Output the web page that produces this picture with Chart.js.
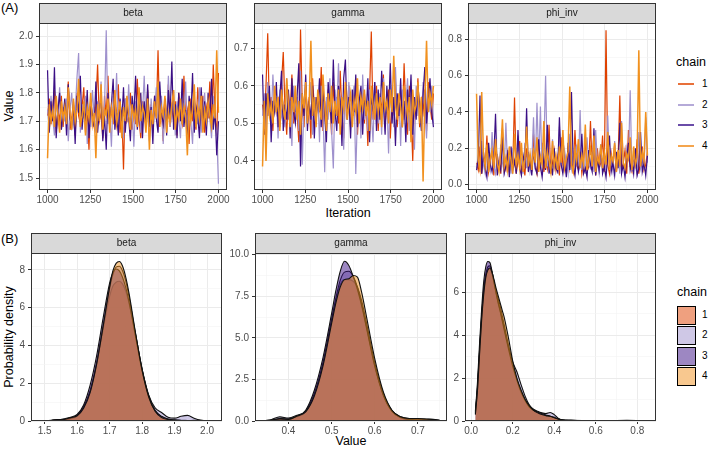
<!DOCTYPE html>
<html>
<head>
<meta charset="utf-8">
<script src="https://cdn.jsdelivr.net/npm/chart.js@4.4.1/dist/chart.umd.min.js"></script>
<style>
  body { margin: 0; background: #fff; width: 709px; height: 449px; position: relative; overflow: hidden;
         font-family: "Liberation Sans", Arial, sans-serif; }
  canvas { position: absolute; }
  .txt { position: absolute; white-space: nowrap; color: #000; }
  .rot { transform: translate(-50%, -50%) rotate(-90deg); }
  .ctr { transform: translate(-50%, -50%); }
</style>
</head>
<body>
<div class="txt" style="left:1px;top:0px;font-size:13px">(A)</div>
<div class="txt" style="left:1px;top:231px;font-size:13px">(B)</div>
<div class="txt rot" style="left:9px;top:106px;font-size:12.5px">Value</div>
<div class="txt ctr" style="left:348px;top:213px;font-size:12.5px">Iteration</div>
<div class="txt rot" style="left:9px;top:337px;font-size:12.5px">Probability density</div>
<div class="txt ctr" style="left:351px;top:441px;font-size:12.5px">Value</div>
<div id="legends"></div>
<script>
const chains = ["1", "2", "3", "4"];
const chainColors = ["#DF4100", "#9F91CD", "#3B0F85", "#F1911F"];
const legendLineColors = ["#E8703A", "#B5AAD8", "#6A4CA8", "#F4A54E"];
const fillColors = ["rgba(223,65,0,0.5)", "rgba(159,145,205,0.5)", "rgba(59,15,133,0.5)", "rgba(241,145,31,0.5)"];
const iterStart = 1000;
const iterEnd = 2000;

// trace values (every ~10th draw)
const betaTrace = [
  [1.72,1.78,1.69,1.75,1.81,1.66,1.74,1.70,1.79,1.68,1.76,1.73,1.84,1.67,1.71,1.77,1.65,1.80,1.72,1.69,
   1.75,1.82,1.66,1.74,1.60,1.78,1.71,1.68,1.76,1.90,1.70,1.73,1.64,1.79,1.72,1.86,1.67,1.75,1.69,1.77,
   1.71,1.83,1.66,1.74,1.53,1.78,1.70,1.72,1.80,1.67,1.75,1.69,1.85,1.71,1.64,1.77,1.73,1.68,1.81,1.70,
   1.76,1.66,1.79,1.72,1.95,1.69,1.74,1.63,1.78,1.71,1.83,1.68,1.75,1.70,1.77,1.65,1.80,1.72,1.69,1.86,
   1.71,1.74,1.62,1.78,1.70,1.76,1.67,1.82,1.73,1.69,1.79,1.66,1.75,1.71,1.84,1.68,1.90,1.72,1.65,1.87],
  [1.74,1.68,1.79,1.71,1.65,1.77,1.72,1.82,1.67,1.75,1.70,1.78,1.63,1.74,1.80,1.69,1.73,1.85,1.94,1.66,
   1.76,1.71,1.79,1.62,1.74,1.68,1.81,1.72,1.66,1.77,1.70,1.84,1.65,1.75,2.02,1.69,1.73,1.61,1.79,1.71,
   1.87,1.67,1.76,1.72,1.64,1.78,1.70,1.83,1.68,1.74,1.61,1.77,1.71,1.80,1.66,1.73,1.86,1.69,1.75,1.63,
   1.78,1.70,1.74,1.82,1.67,1.72,1.79,1.62,1.76,1.70,1.86,1.68,1.73,1.81,1.65,1.77,1.71,1.64,1.79,1.72,
   1.84,1.67,1.75,1.70,1.62,1.78,1.73,1.69,1.82,1.66,1.74,1.80,1.68,1.76,1.71,1.64,1.79,1.70,1.66,1.48],
  [1.88,1.66,1.77,1.70,1.89,1.64,1.74,1.80,1.67,1.72,1.78,1.65,1.83,1.71,1.68,1.76,1.62,1.79,1.73,1.86,
   1.67,1.75,1.70,1.81,1.64,1.77,1.72,1.68,1.84,1.66,1.74,1.79,1.63,1.72,1.60,1.80,1.69,1.76,1.85,1.67,
   1.73,1.65,1.78,1.70,1.82,1.66,1.75,1.71,1.63,1.79,1.72,1.86,1.67,1.74,1.80,1.64,1.77,1.70,1.83,1.68,
   1.75,1.62,1.79,1.71,1.66,1.84,1.73,1.69,1.78,1.65,1.81,1.72,1.91,1.67,1.76,1.64,1.80,1.70,1.85,1.68,
   1.74,1.63,1.79,1.71,1.87,1.66,1.75,1.72,1.64,1.82,1.69,1.77,1.65,1.80,1.71,1.85,1.67,1.74,1.58,1.70],
  [1.57,1.76,1.70,1.74,1.68,1.79,1.72,1.66,1.77,1.71,1.75,1.69,1.82,1.73,1.67,1.78,1.70,1.74,1.85,1.68,
   1.72,1.77,1.65,1.75,1.71,1.80,1.69,1.73,1.57,1.76,1.70,1.83,1.67,1.74,1.72,1.78,1.66,1.75,1.71,1.81,
   1.69,1.73,1.77,1.64,1.75,1.70,1.79,1.72,1.67,1.76,1.71,1.74,1.68,1.82,1.70,1.75,1.73,1.66,1.78,1.60,
   1.74,1.69,1.77,1.71,1.84,1.68,1.75,1.72,1.79,1.66,1.73,1.70,1.76,1.81,1.67,1.74,1.71,1.78,1.69,1.75,
   1.72,1.58,1.77,1.70,1.74,1.83,1.68,1.75,1.71,1.79,1.66,1.74,1.70,1.77,1.72,1.68,1.76,1.71,1.95,1.73]
];
const gammaTrace = [
  [0.55,0.50,0.60,0.74,0.52,0.57,0.48,0.59,0.53,0.56,0.49,0.61,0.69,0.54,0.47,0.58,0.52,0.63,0.50,0.56,
   0.53,0.45,0.75,0.55,0.49,0.60,0.52,0.57,0.46,0.62,0.54,0.50,0.58,0.53,0.65,0.48,0.56,0.51,0.59,0.55,
   0.47,0.61,0.53,0.57,0.50,0.64,0.52,0.46,0.58,0.54,0.60,0.49,0.55,0.52,0.62,0.47,0.57,0.53,0.59,0.50,
   0.56,0.44,0.58,0.745,0.51,0.55,0.60,0.48,0.57,0.53,0.63,0.50,0.54,0.59,0.46,0.56,0.52,0.61,0.49,0.55,
   0.58,0.51,0.66,0.53,0.47,0.60,0.54,0.40,0.57,0.52,0.62,0.49,0.56,0.53,0.59,0.48,0.61,0.55,0.51,0.58],
  [0.52,0.58,0.47,0.61,0.54,0.50,0.63,0.53,0.57,0.46,0.59,0.52,0.55,0.49,0.62,0.51,0.56,0.44,0.60,0.53,
   0.57,0.48,0.64,0.39,0.55,0.59,0.50,0.54,0.61,0.47,0.56,0.52,0.58,0.45,0.60,0.53,0.37,0.57,0.51,0.62,
   0.48,0.38,0.59,0.54,0.66,0.50,0.56,0.43,0.58,0.52,0.61,0.49,0.55,0.60,0.365,0.53,0.57,0.46,0.63,0.51,
   0.56,0.48,0.59,0.53,0.45,0.61,0.54,0.50,0.58,0.47,0.62,0.52,0.56,0.42,0.60,0.54,0.49,0.65,0.53,0.57,
   0.44,0.59,0.51,0.55,0.62,0.48,0.57,0.53,0.43,0.60,0.52,0.56,0.49,0.61,0.54,0.46,0.58,0.53,0.60,0.50],
  [0.63,0.47,0.58,0.52,0.60,0.45,0.56,0.53,0.61,0.49,0.57,0.64,0.48,0.55,0.51,0.59,0.46,0.62,0.53,0.50,
   0.57,0.66,0.385,0.58,0.52,0.63,0.48,0.56,0.51,0.60,0.46,0.57,0.54,0.62,0.49,0.59,0.52,0.45,0.61,0.55,
   0.50,0.67,0.53,0.48,0.60,0.56,0.44,0.62,0.67,0.51,0.57,0.46,0.59,0.53,0.63,0.49,0.56,0.60,0.47,0.58,
   0.52,0.62,0.45,0.57,0.54,0.61,0.48,0.59,0.51,0.64,0.55,0.47,0.60,0.53,0.66,0.50,0.57,0.44,0.58,0.52,
   0.62,0.49,0.56,0.45,0.59,0.53,0.63,0.47,0.57,0.51,0.60,0.55,0.48,0.58,0.65,0.50,0.56,0.62,0.53,0.49],
  [0.385,0.56,0.40,0.58,0.52,0.55,0.50,0.60,0.53,0.57,0.48,0.59,0.54,0.51,0.62,0.55,0.49,0.57,0.53,0.60,
   0.51,0.56,0.47,0.58,0.54,0.61,0.50,0.55,0.72,0.52,0.57,0.49,0.59,0.54,0.51,0.63,0.55,0.48,0.58,0.53,
   0.60,0.50,0.56,0.52,0.59,0.47,0.57,0.54,0.61,0.51,0.55,0.58,0.49,0.56,0.53,0.62,0.50,0.57,0.54,0.59,
   0.52,0.56,0.48,0.60,0.55,0.51,0.58,0.53,0.57,0.49,0.61,0.54,0.56,0.50,0.59,0.53,0.68,0.55,0.51,0.58,
   0.54,0.49,0.60,0.56,0.52,0.57,0.45,0.59,0.53,0.55,0.61,0.50,0.57,0.345,0.56,0.72,0.53,0.58,0.55,0.60]
];
const phiTrace = [
  [0.12,0.08,0.21,0.06,0.15,0.10,0.27,0.07,0.13,0.18,0.05,0.22,0.09,0.14,0.06,0.31,0.11,0.08,0.19,0.07,
   0.16,0.10,0.48,0.06,0.13,0.24,0.08,0.12,0.05,0.20,0.09,0.15,0.07,0.28,0.11,0.06,0.17,0.10,0.23,0.07,
   0.14,0.09,0.33,0.06,0.12,0.19,0.08,0.15,0.05,0.26,0.10,0.13,0.07,0.21,0.09,0.16,0.06,0.30,0.11,0.08,
   0.18,0.06,0.13,0.24,0.07,0.10,0.35,0.08,0.15,0.05,0.20,0.09,0.12,0.27,0.07,0.85,0.11,0.06,0.17,0.09,
   0.22,0.07,0.14,0.49,0.08,0.12,0.19,0.06,0.30,0.10,0.07,0.16,0.09,0.25,0.06,0.13,0.21,0.08,0.11,0.18],
  [0.09,0.16,0.07,0.24,0.11,0.06,0.19,0.13,0.08,0.29,0.10,0.06,0.17,0.08,0.22,0.12,0.07,0.34,0.09,0.15,
   0.06,0.20,0.11,0.08,0.27,0.10,0.14,0.06,0.23,0.09,0.18,0.07,0.12,0.37,0.08,0.45,0.13,0.43,0.06,0.21,
   0.60,0.10,0.16,0.07,0.25,0.09,0.13,0.06,0.32,0.11,0.08,0.19,0.12,0.06,0.28,0.09,0.15,0.07,0.22,0.10,
   0.41,0.08,0.14,0.06,0.26,0.11,0.09,0.18,0.07,0.30,0.12,0.06,0.21,0.09,0.16,0.08,0.38,0.10,0.13,0.07,
   0.24,0.09,0.15,0.06,0.35,0.11,0.08,0.20,0.13,0.52,0.07,0.17,0.10,0.06,0.29,0.09,0.14,0.08,0.37,0.12],
  [0.08,0.14,0.49,0.06,0.18,0.09,0.04,0.23,0.11,0.07,0.15,0.39,0.05,0.12,0.08,0.26,0.06,0.10,0.17,0.04,
   0.21,0.08,0.13,0.06,0.30,0.09,0.05,0.16,0.11,0.42,0.07,0.13,0.05,0.19,0.09,0.06,0.25,0.10,0.04,0.15,
   0.08,0.33,0.06,0.12,0.05,0.20,0.09,0.07,0.37,0.11,0.06,0.14,0.04,0.23,0.08,0.51,0.10,0.05,0.17,0.07,
   0.12,0.28,0.06,0.09,0.04,0.19,0.11,0.07,0.31,0.05,0.14,0.08,0.22,0.06,0.10,0.04,0.16,0.27,0.07,0.12,
   0.05,0.18,0.09,0.34,0.06,0.11,0.04,0.15,0.23,0.08,0.13,0.06,0.20,0.05,0.09,0.29,0.07,0.12,0.05,0.16],
  [0.50,0.13,0.08,0.51,0.17,0.10,0.22,0.07,0.14,0.19,0.09,0.25,0.12,0.07,0.18,0.36,0.10,0.15,0.08,0.21,
   0.13,0.06,0.28,0.11,0.16,0.09,0.23,0.07,0.14,0.32,0.10,0.17,0.08,0.20,0.12,0.26,0.07,0.15,0.11,0.35,
   0.09,0.18,0.13,0.07,0.24,0.10,0.16,0.08,0.21,0.12,0.30,0.09,0.14,0.18,0.54,0.11,0.07,0.19,0.13,0.25,
   0.09,0.16,0.11,0.33,0.08,0.14,0.20,0.10,0.27,0.07,0.15,0.12,0.22,0.09,0.18,0.11,0.29,0.08,0.16,0.13,
   0.23,0.07,0.19,0.10,0.34,0.12,0.09,0.17,0.14,0.26,0.08,0.21,0.11,0.15,0.74,0.10,0.18,0.13,0.40,0.16]
];

// density curves
const betaDensX = [1.48,1.50,1.52,1.54,1.56,1.58,1.60,1.62,1.64,1.66,1.68,1.70,1.71,1.72,1.73,1.74,1.75,1.76,1.78,1.80,1.82,1.84,1.86,1.88,1.90,1.92,1.94,1.96,1.98,2.00,2.02];
const betaDens = [
  [0.01,0.02,0.04,0.08,0.06,0.12,0.25,0.70,1.55,3.00,4.85,6.60,7.15,7.35,7.40,7.25,6.85,6.20,4.55,2.75,1.35,0.58,0.22,0.10,0.06,0.04,0.03,0.02,0.01,0.01,0.00],
  [0.02,0.02,0.03,0.05,0.08,0.14,0.30,0.75,1.60,3.05,5.00,7.00,7.75,8.15,8.20,7.95,7.40,6.55,4.60,2.75,1.40,0.70,0.45,0.20,0.15,0.25,0.30,0.15,0.05,0.02,0.02],
  [0.00,0.01,0.03,0.06,0.12,0.20,0.35,0.85,1.90,3.45,5.45,7.30,7.85,8.05,7.95,7.60,7.05,6.30,4.45,2.65,1.30,0.55,0.25,0.10,0.05,0.03,0.02,0.01,0.00,0.00,0.00],
  [0.00,0.01,0.02,0.04,0.08,0.18,0.28,0.68,1.50,3.00,5.00,7.10,7.95,8.35,8.45,8.20,7.60,6.75,4.65,2.70,1.30,0.52,0.18,0.08,0.05,0.03,0.02,0.04,0.03,0.01,0.00]
];
const gammaDensX = [0.345,0.36,0.38,0.40,0.42,0.44,0.46,0.48,0.50,0.51,0.52,0.53,0.54,0.55,0.56,0.57,0.58,0.60,0.62,0.64,0.66,0.68,0.70,0.72,0.74,0.75];
const gammaDens = [
  [0.00,0.02,0.10,0.12,0.25,0.55,1.55,3.40,6.00,7.25,8.20,8.50,8.50,8.40,8.05,7.20,6.00,3.50,1.65,0.62,0.25,0.15,0.12,0.10,0.08,0.05],
  [0.02,0.08,0.25,0.18,0.35,0.60,1.65,3.50,6.10,7.40,8.45,8.95,9.00,8.70,8.05,7.00,5.80,3.35,1.55,0.60,0.20,0.08,0.05,0.02,0.01,0.00],
  [0.00,0.05,0.15,0.12,0.30,0.65,1.85,3.80,6.45,7.85,9.00,9.60,9.35,8.70,7.90,6.90,5.70,3.30,1.55,0.58,0.22,0.10,0.05,0.02,0.00,0.00],
  [0.02,0.06,0.12,0.10,0.30,0.55,1.50,3.30,5.85,7.10,8.05,8.50,8.55,8.75,8.65,7.70,6.40,3.75,1.75,0.65,0.25,0.15,0.15,0.12,0.08,0.04]
];
const phiDensX = [0.02,0.03,0.04,0.05,0.06,0.07,0.08,0.09,0.10,0.11,0.12,0.13,0.14,0.15,0.16,0.18,0.20,0.22,0.24,0.26,0.28,0.30,0.32,0.34,0.36,0.38,0.40,0.42,0.44,0.48,0.55,0.65,0.75,0.85];
const phiDens = [
  [0.40,1.60,3.30,4.90,6.10,6.80,7.10,7.10,6.85,6.45,6.05,5.70,5.35,4.90,4.45,3.50,2.65,1.95,1.40,1.00,0.72,0.52,0.40,0.30,0.25,0.22,0.18,0.10,0.05,0.03,0.02,0.02,0.02,0.02],
  [0.35,1.50,3.20,4.80,6.00,6.80,7.20,7.25,6.95,6.50,6.00,5.55,5.15,4.75,4.30,3.45,2.75,2.30,1.70,1.15,0.75,0.55,0.45,0.38,0.35,0.40,0.30,0.12,0.05,0.03,0.02,0.01,0.00,0.00],
  [0.45,1.80,3.60,5.20,6.50,7.20,7.45,7.40,7.00,6.45,5.95,5.50,5.10,4.65,4.20,3.35,2.55,1.90,1.35,0.95,0.65,0.50,0.42,0.35,0.28,0.22,0.15,0.08,0.04,0.02,0.01,0.00,0.00,0.00],
  [0.30,1.40,3.10,4.70,5.90,6.70,7.05,7.15,6.95,6.60,6.20,5.85,5.50,5.15,4.80,3.85,2.80,2.00,1.45,1.00,0.70,0.50,0.38,0.30,0.25,0.22,0.15,0.08,0.04,0.03,0.02,0.02,0.03,0.01]
];

// tick labels (major) and minor grid positions
const iterTicks = [1000, 1250, 1500, 1750, 2000];
const iterMinor = [1125, 1375, 1625, 1875];
const betaTicks = [1.5, 1.6, 1.7, 1.8, 1.9, 2.0];
const betaMinor = [1.55, 1.65, 1.75, 1.85, 1.95];
const gammaTicks = [0.4, 0.5, 0.6, 0.7];
const gammaMinor = [0.35, 0.45, 0.55, 0.65, 0.75];
const phiTicks = [0, 0.2, 0.4, 0.6, 0.8];
const phiMinor = [0.1, 0.3, 0.5, 0.7];
const betaDensTicks = [0, 2, 4, 6, 8];
const betaDensMinor = [1, 3, 5, 7];
const gammaDensTicks = [0, 2.5, 5, 7.5, 10];
const gammaDensMinor = [1.25, 3.75, 6.25, 8.75];
const phiDensTicks = [0, 2, 4, 6];
const phiDensMinor = [1, 3, 5, 7];

const STRIP = 20;
const XAXIS_H = 22;
const PAD_R = 14;

const panelFrame = {
  id: "panelFrame",
  afterDraw(chart, args, opts) {
    const { ctx, chartArea: a } = chart;
    ctx.save();
    ctx.fillStyle = "#D9D9D9";
    ctx.fillRect(a.left, a.top - STRIP, a.right - a.left, STRIP);
    ctx.strokeStyle = "#333333";
    ctx.lineWidth = 1;
    ctx.strokeRect(a.left + 0.5, a.top - STRIP + 0.5, a.right - a.left - 1, STRIP);
    ctx.strokeRect(a.left + 0.5, a.top + 0.5, a.right - a.left - 1, a.bottom - a.top - 1);
    ctx.fillStyle = "#1A1A1A";
    ctx.font = '10px "Liberation Sans", Arial, sans-serif';
    ctx.textAlign = "center";
    ctx.textBaseline = "middle";
    ctx.fillText(opts.title, (a.left + a.right) / 2, a.top - STRIP / 2 + 0.5);
    ctx.restore();
  }
};

function axis(min, max, major, minor, digits, size, pad) {
  const all = major.concat(minor).sort((a, b) => a - b);
  const isMajor = (v) => major.some((m) => Math.abs(m - v) < 1e-9);
  const maj = (c) => c.tick && isMajor(c.tick.value);
  return {
    type: "linear",
    min: min,
    max: max,
    bounds: "data",
    afterBuildTicks: (s) => { s.ticks = all.map((v) => ({ value: v })); },
    afterFit: (s) => { if (s.isHorizontal()) s.height = size; else s.width = size; },
    border: { display: false },
    grid: {
      color: (c) => (maj(c) ? "#EBEBEB" : "#F4F4F4"),
      lineWidth: (c) => (maj(c) ? 1 : 0.6),
      tickLength: 3,
      tickWidth: 1,
      tickColor: (c) => (maj(c) ? "#333333" : "rgba(0,0,0,0)"),
    },
    ticks: {
      autoSkip: false,
      maxRotation: 0,
      padding: pad,
      color: "#4D4D4D",
      font: { size: 10 },
      callback: (v) => (isMajor(v) ? v.toFixed(digits) : ""),
    },
  };
}

function panel(box, yw, title, datasets, xAxis, yAxis) {
  const cv = document.createElement("canvas");
  cv.width = yw + box.width + PAD_R;
  cv.height = STRIP + box.height + XAXIS_H;
  cv.style.left = (box.left - yw) + "px";
  cv.style.top = (box.top - STRIP) + "px";
  document.body.appendChild(cv);
  return new Chart(cv, {
    type: "line",
    data: { datasets: datasets },
    options: {
      responsive: false,
      animation: false,
      devicePixelRatio: 1,
      layout: { padding: { top: STRIP, right: PAD_R, left: 0, bottom: 0 } },
      plugins: { legend: { display: false }, tooltip: { enabled: false }, panelFrame: { title: title } },
      scales: { x: xAxis, y: yAxis },
    },
    plugins: [panelFrame],
  });
}

function traceSets(series) {
  return series.map((vals, i) => ({
    label: chains[i],
    data: vals.map((v, k) => ({ x: iterStart + (k * (iterEnd - iterStart)) / (vals.length - 1), y: v })),
    borderColor: chainColors[i],
    borderWidth: i === 3 ? 1.5 : 1.2,
    pointRadius: 0,
    fill: false,
    tension: 0,
    order: chains.length - i,
  }));
}

function densSets(xs, series) {
  return series.map((vals, i) => ({
    label: chains[i],
    data: vals.map((v, k) => ({ x: xs[k], y: v })),
    borderColor: "#111111",
    borderWidth: 1.1,
    backgroundColor: fillColors[i],
    fill: "origin",
    pointRadius: 0,
    cubicInterpolationMode: "monotone",
    order: chains.length - i,
  }));
}

const iterAxis = () => axis(950, 2050, iterTicks, iterMinor, 0, XAXIS_H, 1);

// (A) traces
panel({ left: 39, top: 23, width: 188, height: 167 }, 30, "beta", traceSets(betaTrace),
  iterAxis(), axis(1.458, 2.046, betaTicks, betaMinor, 1, 30, 3));
panel({ left: 254, top: 23, width: 188, height: 167 }, 30, "gamma", traceSets(gammaTrace),
  iterAxis(), axis(0.3225, 0.7675, gammaTicks, gammaMinor, 1, 30, 3));
panel({ left: 468, top: 23, width: 188, height: 167 }, 30, "phi_inv", traceSets(phiTrace),
  iterAxis(), axis(-0.03, 0.89, phiTicks, phiMinor, 1, 30, 3));

// (B) densities
panel({ left: 31, top: 253, width: 191, height: 168 }, 28, "beta", densSets(betaDensX, betaDens),
  axis(1.458, 2.046, betaTicks, betaMinor, 1, XAXIS_H, 1), axis(0, 8.9, betaDensTicks, betaDensMinor, 0, 28, 3));
panel({ left: 255, top: 253, width: 192, height: 168 }, 30, "gamma", densSets(gammaDensX, gammaDens),
  axis(0.3225, 0.7675, gammaTicks, gammaMinor, 1, XAXIS_H, 1), axis(0, 10.1, gammaDensTicks, gammaDensMinor, 1, 30, 3));
panel({ left: 465, top: 253, width: 191, height: 168 }, 30, "phi_inv", densSets(phiDensX, phiDens),
  axis(-0.03, 0.89, phiTicks, phiMinor, 1, XAXIS_H, 1), axis(0, 7.85, phiDensTicks, phiDensMinor, 0, 30, 3));

// legends
const lg = document.getElementById("legends");
function addText(txt, left, top, size) {
  const d = document.createElement("div");
  d.className = "txt";
  d.style.left = left + "px";
  d.style.top = top + "px";
  d.style.fontSize = size + "px";
  d.style.lineHeight = "1";
  d.textContent = txt;
  lg.appendChild(d);
}
addText("chain", 676, 56, 12.5);
addText("chain", 677, 286, 12.5);
chains.forEach((c, i) => {
  const cy = 84 + Math.round(i * 20.5);
  const line = document.createElement("div");
  line.style.cssText = `position:absolute;left:678px;width:16px;height:2px;top:${cy - 1}px;background:${legendLineColors[i]}`;
  lg.appendChild(line);
  addText(c, 702, cy - 5, 10);

  const ky = 306 + Math.round(i * 20.4);
  const key = document.createElement("div");
  key.style.cssText = `position:absolute;left:677px;top:${ky}px;width:17px;height:17px;border:1px solid #000;background:${fillColors[i]}`;
  lg.appendChild(key);
  addText(c, 702, ky + 4, 10);
});
</script>
</body>
</html>
